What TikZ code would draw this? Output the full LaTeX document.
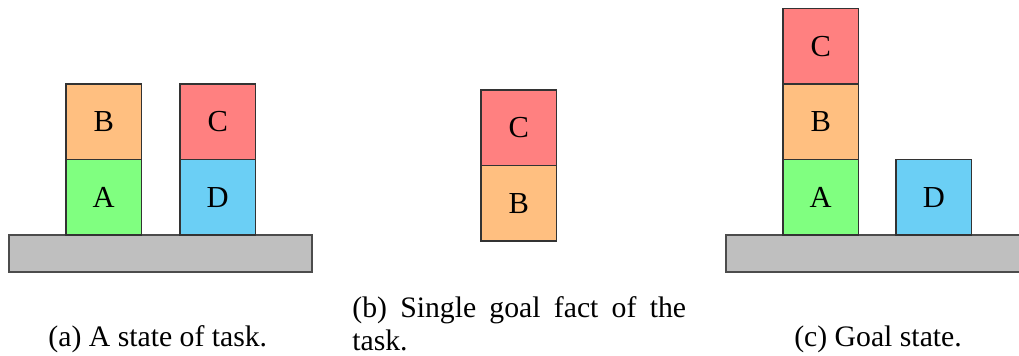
\documentclass[tikz,border=0pt]{standalone}
\usepackage{fontspec}
\setmainfont{Liberation Serif}
\usepackage{tikz}
\usetikzlibrary{positioning}

\definecolor{blockA}{RGB}{128,255,128}
\definecolor{blockB}{RGB}{255,191,128}
\definecolor{blockC}{RGB}{255,128,128}
\definecolor{blockD}{RGB}{107,207,245}
\definecolor{tablegray}{RGB}{191,191,191}

\tikzset{
  block/.style={draw=black!80, line width=0.6pt, minimum width=1cm, minimum height=1cm, inner sep=0pt, outer sep=0pt, font=\fontsize{11.5}{12}\selectfont},
  table/.style={draw=black!70, line width=0.6pt, fill=tablegray, inner sep=0pt, outer sep=0pt, anchor=south west},
  caption/.style={inner sep=0pt, font=\fontsize{11.2}{12.2}\selectfont}
}

\begin{document}
\begin{tikzpicture}
            \useasboundingbox (0,0) rectangle (13.497,4.715);
            % (a) state of task
            \node[table, minimum width=4.013cm, minimum height=0.49cm](T1)at(0.119,1.113){};
            \node[block, fill=blockA, anchor=south west](A1)at(0.874,1.603){A};
            \node[block, fill=blockB, above=0pt of A1](B1){B};
            \node[block, fill=blockD, anchor=south west](D1)at(2.384,1.603){D};
            \node[block, fill=blockC, above=0pt of D1](C1){C};
            \node[caption, anchor=base](capA)at(2.09,0.13){(a) A state of task.};
            % (b) goal fact
            \node[block, fill=blockB, anchor=south west](B2)at(6.371,1.523){B};
            \node[block, fill=blockC, above=0pt of B2](C2){C};
            \node[caption, anchor=north west, text width=4.42cm, align=justify](capB)at(4.66,0.79){(b) Single goal fact of the task.};
            % (c) goal state
            \node[table, minimum width=4.1cm, minimum height=0.49cm](T3)at(9.616,1.113){};
            \node[block, fill=blockA, anchor=south west](A3)at(10.371,1.603){A};
            \node[block, fill=blockB, above=0pt of A3](B3){B};
            \node[block, fill=blockC, above=0pt of B3](C3){C};
            \node[block, fill=blockD, anchor=south west](D3)at(11.868,1.603){D};
            \node[caption, anchor=base](capC)at(11.63,0.13){(c) Goal state.};
        \end{tikzpicture}
\end{document}
